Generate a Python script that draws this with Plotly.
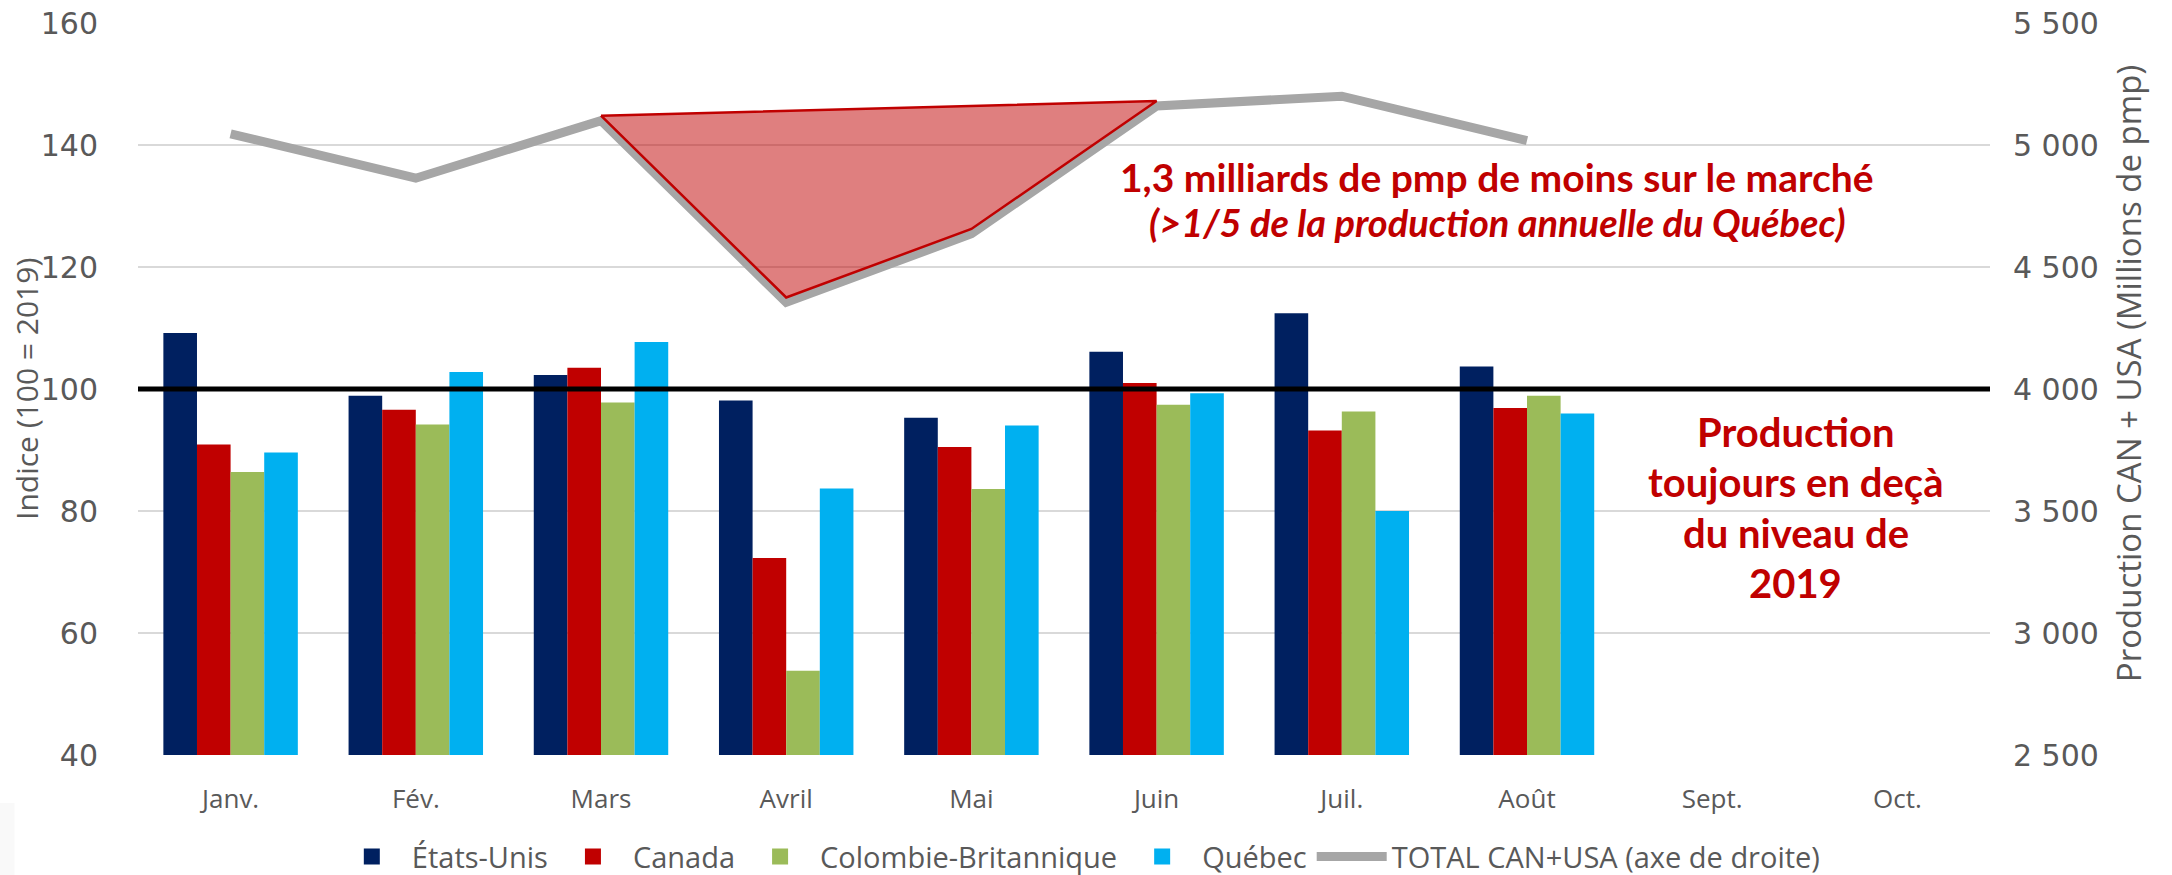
import plotly.graph_objects as go

# ---------------- data ----------------
months = ["Janv.", "Fév.", "Mars", "Avril", "Mai", "Juin", "Juil.", "Août", "Sept.", "Oct."]
etats_unis = [109.2, 98.9, 102.3, 98.1, 95.3, 106.1, 112.4, 103.7, None, None]
canada = [90.9, 96.6, 103.5, 72.3, 90.5, 101.0, 93.2, 96.9, None, None]
colombie_brit = [86.4, 94.2, 97.8, 53.8, 83.6, 97.4, 96.3, 98.9, None, None]
quebec = [89.6, 102.8, 107.7, 83.7, 94.0, 99.3, 80.0, 96.0, None, None]
total_can_usa = [5046, 4864, 5100, 4355, 4636, 5160, 5200, 5018, None, None]
gap_months = ["Mars", "Avril", "Mai", "Juin"]
reference_level = 100

series = [
    ("États-Unis", etats_unis, "#002060"),
    ("Canada", canada, "#c00000"),
    ("Colombie-Britannique", colombie_brit, "#9bbb59"),
    ("Québec", quebec, "#00b0f0"),
]

TICK_FONT = "DejaVu Sans"
TXT_FONT = "Open Sans"
ANN_FONT = "Lato"
GREY_TXT = "#595959"
RED = "#c00000"

fig = go.Figure()

for name, vals, col in series:
    fig.add_trace(go.Bar(x=months, y=vals, name=name, showlegend=False,
                         marker=dict(color=col, line=dict(width=0))))

# legend entries with larger square swatches
for name, vals, col in series:
    fig.add_trace(go.Scatter(x=[None], y=[None], name=name, mode="markers",
                             marker=dict(symbol="square", size=22, color=col)))

fig.add_trace(go.Scatter(
    x=months, y=total_can_usa, name="TOTAL CAN+USA (axe de droite)", yaxis="y2",
    mode="lines", line=dict(color="#a6a6a6", width=9), connectgaps=False))

# shaded gap polygon (Mars -> Avril -> Mai -> Juin -> back to Mars), on the top edge of the line
idx = [months.index(m) for m in gap_months]
poly_x = [months[i] for i in idx] + [months[idx[0]]]
poly_y = [total_can_usa[i] + 20 for i in idx] + [total_can_usa[idx[0]] + 20]
fig.add_trace(go.Scatter(
    x=poly_x, y=poly_y, yaxis="y2", mode="lines", fill="toself",
    fillcolor="rgba(192,0,0,0.5)", line=dict(color=RED, width=2.5),
    showlegend=False, hoverinfo="skip"))

# reference line at 100
fig.add_shape(type="line", xref="paper", yref="y", x0=0, x1=1,
              y0=reference_level, y1=reference_level,
              line=dict(color="black", width=5), layer="above")

# faint box bottom-left
fig.add_shape(type="rect", xref="paper", yref="paper", x0=-0.0748, x1=-0.0667,
              y0=-0.164, y1=-0.0656, fillcolor="#f9f9f9", line=dict(width=0), layer="below")

fig.add_annotation(xref="paper", yref="paper", x=0.734, y=0.789,
                   text="<b>1,3 milliards de pmp de moins sur le marché</b>",
                   showarrow=False, font=dict(family=ANN_FONT, size=39, color=RED),
                   xanchor="center", yanchor="middle")
fig.add_annotation(xref="paper", yref="paper", x=0.734, y=0.7287,
                   text="<b><i>(>1/5 de la production annuelle du Québec)</i></b>",
                   showarrow=False, font=dict(family=ANN_FONT, size=38, color=RED),
                   xanchor="center", yanchor="middle")

note_lines = ["Production", "toujours en deçà", "du niveau de", "2019"]
for k, line in enumerate(note_lines):
    fig.add_annotation(xref="paper", yref="paper", x=0.895, y=0.441 - k * 0.0687,
                       text="<b>" + line + "</b>", showarrow=False,
                       font=dict(family=ANN_FONT, size=40, color=RED),
                       xanchor="center", yanchor="middle")

# axis titles
fig.add_annotation(xref="paper", yref="paper", x=-0.0605, y=0.5, textangle=-90,
                   text="Indice (100 = 2019)", showarrow=False,
                   font=dict(family=TXT_FONT, size=30, color=GREY_TXT),
                   xanchor="center", yanchor="middle")
fig.add_annotation(xref="paper", yref="paper", x=1.0748, y=0.521, textangle=-90,
                   text="Production CAN + USA (Millions de pmp)", showarrow=False,
                   font=dict(family=TXT_FONT, size=33, color=GREY_TXT),
                   xanchor="center", yanchor="middle")

fig.update_layout(
    width=2172, height=875,
    paper_bgcolor="white", plot_bgcolor="white",
    margin=dict(l=138, r=182, t=23, b=120, autoexpand=False),
    barmode="group", bargap=0.274, bargroupgap=0,
    separators=", ",
    showlegend=True,
    legend=dict(orientation="h", x=0.508, xanchor="center", y=-0.139, yanchor="middle",
                font=dict(family=TXT_FONT, size=29, color=GREY_TXT),
                itemsizing="trace", traceorder="normal", itemwidth=70),
    xaxis=dict(type="category", categoryorder="array", categoryarray=months,
               showgrid=False, showline=False, ticks="", automargin=False,
               ticklabelstandoff=26,
               tickfont=dict(family=TXT_FONT, size=26, color=GREY_TXT)),
    yaxis=dict(range=[40, 160], dtick=20, showgrid=True, gridcolor="#d9d9d9", gridwidth=2,
               zeroline=False, showline=False, ticks="", ticklabelstandoff=39,
               automargin=False,
               tickfont=dict(family=TICK_FONT, size=30, color=GREY_TXT)),
    yaxis2=dict(range=[2500, 5500], dtick=500, overlaying="y", side="right",
                showgrid=False, zeroline=False, showline=False, ticks="",
                tickformat=",d", ticklabelstandoff=22, automargin=False,
                tickfont=dict(family=TICK_FONT, size=30, color=GREY_TXT)),
)

fig.write_html("out.html", config={"displayModeBar": False},
               post_script="document.body.style.margin='0';")
